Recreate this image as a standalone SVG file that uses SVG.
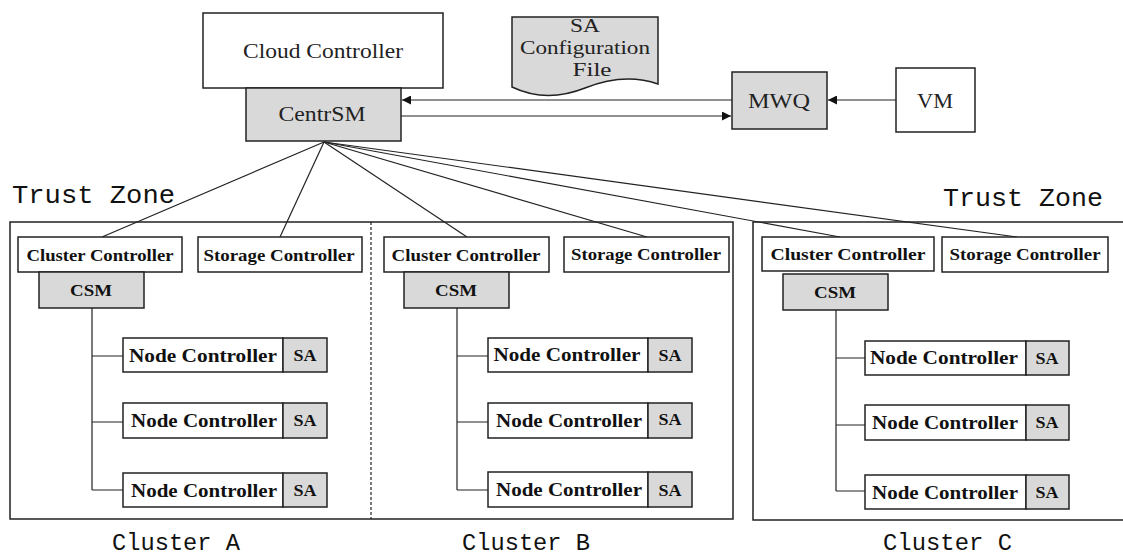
<svg xmlns="http://www.w3.org/2000/svg" width="1123" height="557" viewBox="0 0 1123 557">
<defs>
<marker id="arr" viewBox="0 0 10 10" refX="10" refY="5" markerWidth="11" markerHeight="9" markerUnits="userSpaceOnUse" orient="auto">
<path d="M0,0 L10,5 L0,10 Z" fill="#111"/>
</marker>
</defs>
<style>
.box{fill:#fff;stroke:#222;stroke-width:1.5}
.gray{fill:#d9d9d9;stroke:#222;stroke-width:1.5}
.t{font-family:"Liberation Serif","Times New Roman",serif;fill:#222;text-anchor:middle}
.b{font-family:"Liberation Serif","Times New Roman",serif;font-weight:bold;fill:#111;text-anchor:middle}
.m{font-family:"Liberation Mono","DejaVu Sans Mono",monospace;fill:#111}
.ln{stroke:#222;stroke-width:1.2;fill:none}
</style>
<rect width="1123" height="557" fill="#fff"/>

<g id="zones">
<path d="M733,222 H10 V519 H733 Z" class="box"/>
<line x1="371" y1="222" x2="371" y2="519" stroke="#222" stroke-width="1.2" stroke-dasharray="3,2"/>
<path d="M1125,222 H753 V520 H1125" class="box"/>
<text class="m" x="12" y="203" font-size="26" textLength="163" lengthAdjust="spacingAndGlyphs">Trust Zone</text>
<text class="m" x="943" y="206" font-size="26" textLength="160" lengthAdjust="spacingAndGlyphs">Trust Zone</text>
<text class="m" x="112" y="550" font-size="23" textLength="128" lengthAdjust="spacingAndGlyphs">Cluster A</text>
<text class="m" x="462" y="550" font-size="23" textLength="128" lengthAdjust="spacingAndGlyphs">Cluster B</text>
<text class="m" x="883" y="550" font-size="23" textLength="129" lengthAdjust="spacingAndGlyphs">Cluster C</text>
</g>

<g id="connectors">
<line class="ln" x1="732" y1="100" x2="402" y2="100" marker-end="url(#arr)"/>
<line class="ln" x1="401" y1="116" x2="731" y2="116" marker-end="url(#arr)"/>
<line class="ln" x1="896" y1="100" x2="828" y2="100" marker-end="url(#arr)"/>
<line class="ln" x1="324" y1="142" x2="102" y2="237"/>
<line class="ln" x1="324" y1="142" x2="280" y2="237"/>
<line class="ln" x1="324" y1="142" x2="467" y2="237"/>
<line class="ln" x1="324" y1="142" x2="647" y2="237"/>
<line class="ln" x1="324" y1="142" x2="840" y2="237"/>
<line class="ln" x1="324" y1="142" x2="1017" y2="237"/>
<path class="ln" d="M92,308 V490 M92,356 H123 M92,422 H123 M92,490 H123"/>
<path class="ln" d="M457,308 V490 M457,356 H488 M457,422 H488 M457,490 H488"/>
<path class="ln" d="M836,310 V491 M836,358 H865 M836,425 H865 M836,491 H865"/>
</g>

<g id="cloud-controller">
<rect class="box" x="203" y="13" width="240" height="75"/>
<text class="t" x="323" y="58" font-size="22" textLength="160" lengthAdjust="spacingAndGlyphs">Cloud Controller</text>
</g>
<g id="centrsm">
<rect class="gray" x="246" y="88" width="155" height="53"/>
<text class="t" x="322" y="121" font-size="22" textLength="87" lengthAdjust="spacingAndGlyphs">CentrSM</text>
</g>
<g id="sa-config">
<path class="gray" d="M512,17 H658 V84 C635,76 610,78 585,88 C560,98 535,98 512,87 Z"/>
<text class="t" x="585" y="32" font-size="19" textLength="30" lengthAdjust="spacingAndGlyphs">SA</text>
<text class="t" x="585" y="54" font-size="19" textLength="130" lengthAdjust="spacingAndGlyphs">Configuration</text>
<text class="t" x="592" y="76" font-size="19" textLength="39" lengthAdjust="spacingAndGlyphs">File</text>
</g>
<g id="mwq">
<rect class="gray" x="732" y="72" width="95" height="57"/>
<text class="t" x="779" y="108" font-size="22" textLength="62" lengthAdjust="spacingAndGlyphs">MWQ</text>
</g>
<g id="vm">
<rect class="box" x="896" y="68" width="79" height="64"/>
<text class="t" x="935" y="108" font-size="22" textLength="36" lengthAdjust="spacingAndGlyphs">VM</text>
</g>

<g id="cluster-a">
<rect class="box" x="18" y="237" width="164" height="35"/>
<text class="b" x="100" y="261" font-size="17" textLength="147" lengthAdjust="spacingAndGlyphs">Cluster Controller</text>
<rect class="box" x="198" y="237" width="164" height="35"/>
<text class="b" x="279" y="261" font-size="17" textLength="151" lengthAdjust="spacingAndGlyphs">Storage Controller</text>
<rect class="gray" x="39" y="272" width="105" height="36"/>
<text class="b" x="91" y="296" font-size="16" textLength="42" lengthAdjust="spacingAndGlyphs">CSM</text>
<rect class="box" x="123" y="338" width="160" height="34"/><rect class="gray" x="283" y="338" width="44" height="34"/>
<text class="b" x="203" y="362" font-size="18" textLength="148" lengthAdjust="spacingAndGlyphs">Node Controller</text><text class="b" x="305" y="361" font-size="16" textLength="23" lengthAdjust="spacingAndGlyphs">SA</text>
<rect class="box" x="123" y="403" width="160" height="35"/><rect class="gray" x="283" y="403" width="44" height="35"/>
<text class="b" x="204" y="427" font-size="18" textLength="146" lengthAdjust="spacingAndGlyphs">Node Controller</text><text class="b" x="305" y="426" font-size="16" textLength="23" lengthAdjust="spacingAndGlyphs">SA</text>
<rect class="box" x="123" y="473" width="160" height="34"/><rect class="gray" x="283" y="473" width="44" height="34"/>
<text class="b" x="204" y="497" font-size="18" textLength="146" lengthAdjust="spacingAndGlyphs">Node Controller</text><text class="b" x="305" y="496" font-size="16" textLength="23" lengthAdjust="spacingAndGlyphs">SA</text>
</g>

<g id="cluster-b">
<rect class="box" x="384" y="237" width="165" height="35"/>
<text class="b" x="466" y="261" font-size="17" textLength="149" lengthAdjust="spacingAndGlyphs">Cluster Controller</text>
<rect class="box" x="564" y="237" width="165" height="35"/>
<text class="b" x="646" y="260" font-size="17" textLength="150" lengthAdjust="spacingAndGlyphs">Storage Controller</text>
<rect class="gray" x="404" y="272" width="105" height="36"/>
<text class="b" x="456" y="296" font-size="16" textLength="42" lengthAdjust="spacingAndGlyphs">CSM</text>
<rect class="box" x="488" y="338" width="160" height="34"/><rect class="gray" x="648" y="338" width="44" height="34"/>
<text class="b" x="567" y="361" font-size="18" textLength="147" lengthAdjust="spacingAndGlyphs">Node Controller</text><text class="b" x="670" y="361" font-size="16" textLength="23" lengthAdjust="spacingAndGlyphs">SA</text>
<rect class="box" x="488" y="403" width="160" height="35"/><rect class="gray" x="648" y="403" width="44" height="35"/>
<text class="b" x="569" y="427" font-size="18" textLength="146" lengthAdjust="spacingAndGlyphs">Node Controller</text><text class="b" x="670" y="425" font-size="16" textLength="23" lengthAdjust="spacingAndGlyphs">SA</text>
<rect class="box" x="488" y="472" width="160" height="35"/><rect class="gray" x="648" y="472" width="44" height="35"/>
<text class="b" x="569" y="496" font-size="18" textLength="146" lengthAdjust="spacingAndGlyphs">Node Controller</text><text class="b" x="670" y="496" font-size="16" textLength="23" lengthAdjust="spacingAndGlyphs">SA</text>
</g>

<g id="cluster-c">
<rect class="box" x="762" y="237" width="172" height="34"/>
<text class="b" x="848" y="260" font-size="17" textLength="155" lengthAdjust="spacingAndGlyphs">Cluster Controller</text>
<rect class="box" x="942" y="237" width="166" height="35"/>
<text class="b" x="1025" y="260" font-size="17" textLength="151" lengthAdjust="spacingAndGlyphs">Storage Controller</text>
<rect class="gray" x="783" y="274" width="105" height="36"/>
<text class="b" x="835" y="298" font-size="16" textLength="42" lengthAdjust="spacingAndGlyphs">CSM</text>
<rect class="box" x="865" y="341" width="161" height="34"/><rect class="gray" x="1026" y="341" width="43" height="34"/>
<text class="b" x="944" y="364" font-size="18" textLength="148" lengthAdjust="spacingAndGlyphs">Node Controller</text><text class="b" x="1047" y="364" font-size="16" textLength="23" lengthAdjust="spacingAndGlyphs">SA</text>
<rect class="box" x="865" y="405" width="161" height="35"/><rect class="gray" x="1026" y="405" width="43" height="35"/>
<text class="b" x="945" y="429" font-size="18" textLength="146" lengthAdjust="spacingAndGlyphs">Node Controller</text><text class="b" x="1047" y="428" font-size="16" textLength="23" lengthAdjust="spacingAndGlyphs">SA</text>
<rect class="box" x="865" y="475" width="161" height="34"/><rect class="gray" x="1026" y="475" width="43" height="34"/>
<text class="b" x="945" y="499" font-size="18" textLength="146" lengthAdjust="spacingAndGlyphs">Node Controller</text><text class="b" x="1047" y="498" font-size="16" textLength="23" lengthAdjust="spacingAndGlyphs">SA</text>
</g>
</svg>
